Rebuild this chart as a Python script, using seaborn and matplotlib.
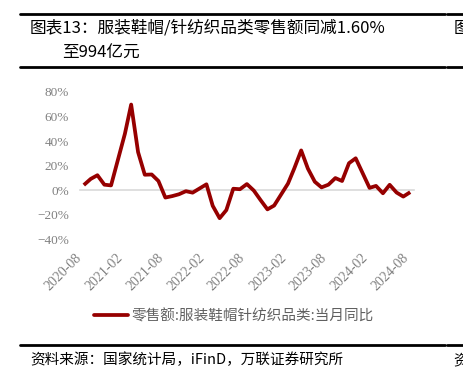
import numpy as np
import pandas as pd
import matplotlib
matplotlib.use("Agg")
import matplotlib.pyplot as plt
from matplotlib.lines import Line2D
import seaborn as sns

# ---- data ----
months = (["2020-%02d" % m for m in range(8, 13)]
          + ["2021-%02d" % m for m in range(2, 13)]
          + ["2022-%02d" % m for m in range(2, 13)]
          + ["2023-%02d" % m for m in range(2, 13)]
          + ["2024-%02d" % m for m in range(2, 9)])
yoy = [4.2, 9.2, 12.2, 4.5, 3.9,
       46.0, 69.8, 31.0, 12.6, 12.8, 7.5, -6.0, -4.8, -3.3, -0.8, -2.0,
       4.8, -12.7, -22.8, -16.2, 1.2, 0.8, 5.0, -0.3, -8.0, -15.6, -12.5,
       5.4, 17.7, 32.4, 17.6, 6.9, 2.3, 4.5, 9.9, 7.5, 22.0, 26.0,
       1.9, 3.5, -2.5, 4.4, -1.9, -5.2, -1.6]
tick_months = ["2020-08", "2021-02", "2021-08", "2022-02", "2022-08",
               "2023-02", "2023-08", "2024-02", "2024-08"]
y_ticks = [-40, -20, 0, 20, 40, 60, 80]
series_name = "零售额:服装鞋帽针纺织品类:当月同比"
title1 = "图表13：服装鞋帽/针纺织品类零售额同减1.60%"
title2 = "至994亿元"
source = "资料来源：国家统计局，iFinD，万联证券研究所"

df = pd.DataFrame({"date": pd.to_datetime(months) + pd.Timedelta(days=17),
                   "value": yoy})

sns.set_theme(style="white")
plt.rcParams["font.family"] = ["Noto Sans CJK SC", "DejaVu Sans"]

W, H = 464, 376
fig = plt.figure(figsize=(W / 100, H / 100), dpi=100)
ax = fig.add_axes([80 / W, 1 - 239.3 / H, (414 - 80) / W, (239.3 - 92) / H])

red = "#960000"
sns.lineplot(data=df, x="date", y="value", ax=ax, color=red, linewidth=2.7,
             legend=False, solid_capstyle="butt")

ax.set_xlim(pd.Timestamp("2020-08-01"), pd.Timestamp("2024-09-04"))
ax.set_ylim(-40, 80)

for s in ["top", "right", "left"]:
    ax.spines[s].set_visible(False)
ax.spines["bottom"].set_position(("data", 0))
ax.spines["bottom"].set_color("#d9d9d9")
ax.spines["bottom"].set_linewidth(1.2)
ax.spines["bottom"].set_zorder(1)

tick_dates = pd.to_datetime(tick_months)
ax.set_xticks(tick_dates)
ax.set_xticklabels(tick_months, rotation=45, ha="right", va="center",
                   rotation_mode="anchor", family="Liberation Serif",
                   fontsize=10, color="#808080")
ax.tick_params(axis="x", direction="out", length=2.5, width=1,
               color="#d9d9d9", pad=45)

ax.set_yticks(y_ticks)
ax.set_yticklabels([("−%d%%" % -v) if v < 0 else ("%d%%" % v) for v in y_ticks],
                   family="Liberation Serif", fontsize=9.5, color="#808080")
ax.tick_params(axis="y", length=0, pad=8)
ax.set_xlabel("")
ax.set_ylabel("")
ax.grid(False)

# legend
handle = Line2D([], [], color=red, linewidth=2.7)
fig.legend([handle], [series_name], loc="center",
           bbox_to_anchor=(234 / W, 1 - 316 / H), frameon=False,
           handlelength=2.35, handletextpad=0.25,
           prop={"family": ["Noto Sans CJK SC"], "size": 10.5},
           labelcolor="#606060")

# title and rules
for yy in [13.5, 66.5, 344.5]:
    fig.add_artist(Line2D([20 / W, 445 / W], [1 - yy / H, 1 - yy / H],
                          color="black", linewidth=2.0))
    fig.add_artist(Line2D([447 / W, 1.0], [1 - yy / H, 1 - yy / H],
                          color="black", linewidth=2.0))
fig.text(30 / W, 1 - 28 / H, title1, fontsize=12, va="center", ha="left",
         color="black")
fig.text(62 / W, 1 - 53 / H, title2, fontsize=12, va="center", ha="left",
         color="black")
fig.text(454 / W, 1 - 28 / H, "图", fontsize=12, va="center", ha="left",
         color="black")
fig.text(30 / W, 1 - 360 / H, source, fontsize=10.5, va="center", ha="left",
         color="black")
fig.text(453 / W, 1 - 360 / H, "资", fontsize=10.5, va="center", ha="left",
         color="black")

fig.savefig("out.png", dpi=100)
